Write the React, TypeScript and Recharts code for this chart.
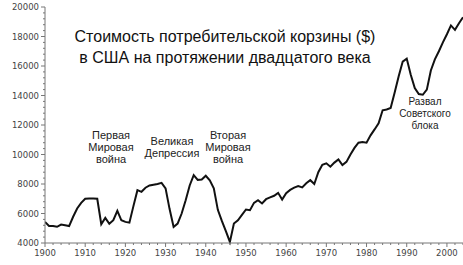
import React from 'react';
import { LineChart, Line, XAxis, YAxis, Customized } from 'recharts';

const firstYear = 1900;
const prices = [
  5430, 5150, 5150, 5100, 5250, 5200, 5150, 5780, 6340, 6720,
  7000, 7020, 7020, 7000, 5270, 5700, 5300, 5550, 6180, 5540,
  5430, 5380, 6500, 7580, 7470, 7750, 7900, 7950, 8000, 8080,
  7700, 6300, 5090, 5320, 6000, 6900, 7900, 8600, 8280, 8300,
  8560, 8250, 7700, 6250, 5500, 4800, 4070, 5320, 5540, 5900,
  6270, 6220, 6720, 6900, 6680, 6970, 7090, 7200, 7400, 6950,
  7380, 7600, 7750, 7860, 7770, 8050, 8260, 8000, 8800, 9300,
  9400, 9170, 9450, 9670, 9280, 9500, 10000, 10450, 10800, 10850,
  10800, 11300, 11700, 12120, 13000, 13050, 13150, 14200, 15300, 16300,
  16500, 15400, 14500, 14100, 14050, 14400, 15700, 16450, 17000, 17600,
  18150, 18750, 18450, 18900, 19300,
];
const years = prices.map((_, i) => firstYear + i);
const data = years.map((year, i) => ({ year, price: prices[i] }));

const xMajorTicks = [1900, 1910, 1920, 1930, 1940, 1950, 1960, 1970, 1980, 1990, 2000];
const xMinorTicks: number[] = [];
for (let y = 1900; y <= 2004; y += 2) xMinorTicks.push(y);
const yMajorTicks = [4000, 6000, 8000, 10000, 12000, 14000, 16000, 18000, 20000];
const yMinorTicks: number[] = [];
for (let v = 4000; v <= 20000; v += 400) yMinorTicks.push(v);

const titleLines = ['Стоимость потребительской корзины ($)', 'в США на протяжении двадцатого века'];
const annotations = [
  { lines: ['Первая', 'Мировая', 'война'], x: 111, y: 139, size: 11 },
  { lines: ['Великая', 'Депрессия'], x: 172, y: 145, size: 11 },
  { lines: ['Вторая', 'Мировая', 'война'], x: 228, y: 139, size: 11 },
  { lines: ['Развал', 'Советского', 'блока'], x: 425, y: 105, size: 10 },
];

const tickFont = 'DejaVu Sans, sans-serif';
const textFont = 'Liberation Sans, Arial, sans-serif';

const XTick = (props: any) => {
  const { x, y, payload } = props;
  const major = xMajorTicks.includes(payload.value);
  return (
    <g>
      <line x1={x} x2={x} y1={y} y2={y + (major ? 4 : 2)} stroke="#777" strokeWidth={1} />
      {major && (
        <text x={x} y={y + 13} textAnchor="middle" fontSize={8.5} fontFamily={tickFont} fill="#444">
          {payload.value}
        </text>
      )}
    </g>
  );
};

const YTick = (props: any) => {
  const { x, y, payload } = props;
  const major = yMajorTicks.includes(payload.value);
  return (
    <g>
      <line x1={x - (major ? 4 : 2)} x2={x} y1={y} y2={y} stroke="#777" strokeWidth={1} />
      {major && (
        <text x={x - 6} y={y + 3} textAnchor="end" fontSize={8.5} fontFamily={tickFont} fill="#444">
          {payload.value}
        </text>
      )}
    </g>
  );
};

const TextLayer = () => (
  <g>
    {titleLines.map((t, i) => (
      <text key={i} x={225} y={42 + i * 21} textAnchor="middle" fontSize={16} fontFamily={textFont} fill="#111">
        {t}
      </text>
    ))}
    {annotations.map((a, j) =>
      a.lines.map((l, i) => (
        <text key={`${j}-${i}`} x={a.x} y={a.y + i * 12} textAnchor="middle" fontSize={a.size} fontFamily={textFont} fill="#222">
          {l}
        </text>
      ))
    )}
  </g>
);

export default function App() {
  return (
    <div style={{ position: 'absolute', left: 0, top: 0, width: 463, height: 265, background: '#fff' }}>
      <LineChart width={463} height={265} data={data} margin={{ top: 7, right: 0, bottom: 0, left: 0 }}>
        <XAxis
          dataKey="year"
          type="number"
          domain={[1900, 2004]}
          ticks={xMinorTicks}
          interval={0}
          height={22}
          tickSize={0}
          tickMargin={0}
          tick={<XTick />}
          stroke="#777"
          allowDataOverflow
        />
        <YAxis
          type="number"
          domain={[4000, 20000]}
          ticks={yMinorTicks}
          interval={0}
          width={45}
          tickSize={0}
          tickMargin={0}
          tick={<YTick />}
          stroke="#777"
        />
        <Line type="linear" dataKey="price" stroke="#111" strokeWidth={2} dot={false} isAnimationActive={false} />
        <Customized component={TextLayer} />
      </LineChart>
    </div>
  );
}
